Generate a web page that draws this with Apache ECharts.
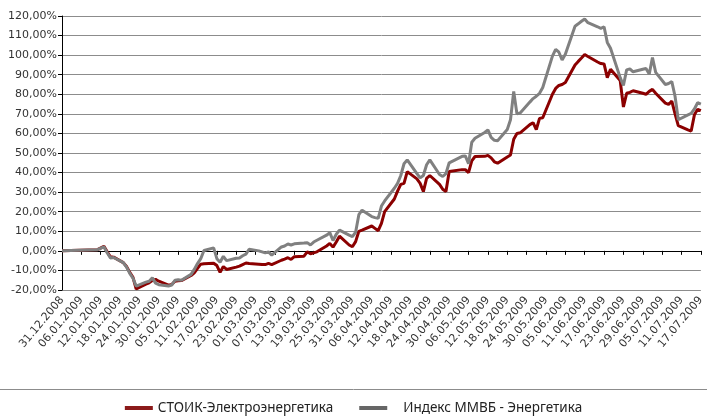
<!DOCTYPE html>
<html>
<head>
<meta charset="utf-8">
<script src="https://cdn.jsdelivr.net/npm/echarts@6/dist/echarts.min.js"></script>
<style>
  html, body { margin: 0; padding: 0; background: #fff; }
  #chart { width: 707px; height: 416px; }
</style>
</head>
<body>
<div id="chart"></div>
<script>
// trading dates (DD.MM.YYYY)
const dates = [
  '31.12.2008', '11.01.2009', '13.01.2009', '14.01.2009', '15.01.2009', '16.01.2009',
  '19.01.2009', '20.01.2009', '21.01.2009', '22.01.2009', '23.01.2009',
  '26.01.2009', '27.01.2009', '28.01.2009', '29.01.2009', '30.01.2009',
  '02.02.2009', '03.02.2009', '04.02.2009', '05.02.2009', '06.02.2009',
  '09.02.2009', '10.02.2009', '11.02.2009', '12.02.2009', '13.02.2009',
  '16.02.2009', '17.02.2009', '18.02.2009', '19.02.2009', '20.02.2009',
  '23.02.2009', '24.02.2009', '25.02.2009', '26.02.2009', '27.02.2009',
  '02.03.2009', '03.03.2009', '04.03.2009', '05.03.2009', '06.03.2009',
  '09.03.2009', '10.03.2009', '11.03.2009', '12.03.2009', '13.03.2009',
  '16.03.2009', '17.03.2009', '18.03.2009', '19.03.2009', '20.03.2009',
  '23.03.2009', '24.03.2009', '25.03.2009', '26.03.2009', '27.03.2009',
  '30.03.2009', '31.03.2009', '01.04.2009', '02.04.2009', '03.04.2009',
  '06.04.2009', '07.04.2009', '08.04.2009', '09.04.2009', '10.04.2009',
  '13.04.2009', '14.04.2009', '15.04.2009', '16.04.2009', '17.04.2009',
  '20.04.2009', '21.04.2009', '22.04.2009', '23.04.2009', '24.04.2009',
  '27.04.2009', '28.04.2009', '29.04.2009', '30.04.2009',
  '04.05.2009', '05.05.2009', '06.05.2009', '07.05.2009', '08.05.2009',
  '11.05.2009', '12.05.2009', '13.05.2009', '14.05.2009', '15.05.2009',
  '18.05.2009', '19.05.2009', '20.05.2009', '21.05.2009', '22.05.2009',
  '25.05.2009', '26.05.2009', '27.05.2009', '28.05.2009', '29.05.2009',
  '01.06.2009', '02.06.2009', '03.06.2009', '04.06.2009', '05.06.2009',
  '08.06.2009', '09.06.2009', '10.06.2009', '11.06.2009', '12.06.2009',
  '15.06.2009', '16.06.2009', '17.06.2009', '18.06.2009', '19.06.2009',
  '22.06.2009', '23.06.2009', '24.06.2009', '25.06.2009', '26.06.2009',
  '29.06.2009', '30.06.2009', '01.07.2009', '02.07.2009', '03.07.2009',
  '06.07.2009', '07.07.2009', '08.07.2009', '09.07.2009', '10.07.2009',
  '13.07.2009', '14.07.2009', '15.07.2009', '16.07.2009', '17.07.2009'
];

// СТОИК-Электроэнергетика, %
const stoik = [
  0, 0.6, 2.3, -0.5, -3.0, -3.2,
  -6.0, -8.0, -11.0, -13.5, -19.5,
  -17.0, -16.3, -15.2, -14.6, -15.5,
  -17.5, -17.2, -15.5, -15.3, -15.2,
  -12.6, -11.2, -9.0, -6.8, -6.6,
  -6.3, -7.5, -11.0, -8.0, -9.5,
  -8.3, -7.8, -7.0, -6.2, -6.5,
  -6.8, -7.0, -7.0, -6.4, -7.0,
  -4.8, -4.2, -3.5, -4.4, -3.0,
  -2.7, -0.5, -1.5, -1.0, -0.5,
  2.5, 3.8, 1.9, 4.5, 7.5,
  3.0, 2.1, 4.7, 10.0, 10.6,
  12.7, 11.5, 10.3, 14.0, 20.0,
  26.5, 30.5, 34.0, 34.5, 40.5,
  36.8, 34.5, 30.3, 37.0, 38.5,
  34.0, 31.5, 30.3, 40.5,
  41.5, 41.5, 40.0, 46.0, 48.2,
  48.3, 48.8, 47.5, 45.5, 44.8,
  48.0, 49.0, 57.0, 60.0, 60.3,
  64.5, 65.5, 62.0, 67.7, 68.0,
  80.0, 83.0, 84.5, 85.0, 86.0,
  95.0, 96.8, 98.5, 100.3, 99.3,
  96.5, 95.7, 95.5, 88.5, 92.8,
  87.0, 73.5, 80.5, 81.0, 81.8,
  80.5, 80.0, 81.5, 82.5, 80.5,
  75.5, 74.8, 76.5, 70.0, 64.0,
  61.8, 61.2, 69.5, 72.3, 71.6
];

// Индекс ММВБ - Энергетика, %
const micex = [
  0, 0.6, 2.0, -1.0, -3.6, -3.4,
  -6.0, -8.3, -11.5, -14.0, -18.0,
  -16.0, -15.5, -13.8, -16.5, -17.3,
  -18.0, -17.5, -15.0, -14.8, -15.0,
  -12.0, -9.5, -6.5, -4.0, 0.2,
  1.5, -4.0, -5.8, -2.8, -5.0,
  -3.8, -3.6, -2.5, -1.7, 0.8,
  0.0, -0.5, -1.0, -0.5, -2.2,
  2.0, 2.5, 3.5, 3.0, 3.6,
  4.0, 4.2, 3.0, 4.5, 5.4,
  8.0, 9.3, 5.3, 8.5, 10.6,
  8.0, 7.3, 9.5, 18.5, 20.8,
  17.5, 17.0, 16.6, 22.9, 25.5,
  32.0, 34.5, 38.5, 44.5, 46.5,
  39.5, 37.3, 38.5, 44.0, 46.5,
  39.0, 38.0, 39.5, 45.0,
  48.3, 48.5, 44.5, 55.5, 57.5,
  60.5, 61.8, 58.0, 56.5, 56.3,
  62.0, 67.0, 81.5, 70.0, 70.5,
  76.0, 77.8, 79.0, 80.5, 83.5,
  99.5, 103.0, 101.5, 97.5, 100.5,
  114.8, 116.0, 117.3, 118.5, 116.6,
  114.5, 113.7, 114.5, 106.5, 103.5,
  88.5, 84.5, 92.5, 93.0, 91.5,
  92.8, 93.2, 90.3, 98.8, 91.2,
  85.0, 85.5, 86.5, 79.0, 67.0,
  69.5, 70.2, 72.5, 75.7, 75.0
];

const yTicks = { min: -20, max: 120, step: 10 };
const dayStep = 6;

const DAY = 86400000;
const start = Date.UTC(2008, 11, 31);

function toDay(s) {
  const p = s.split('.');
  return Math.round((Date.UTC(+p[2], +p[1] - 1, +p[0]) - start) / DAY);
}

function dayLabel(d) {
  const t = new Date(start + d * DAY);
  const dd = String(t.getUTCDate()).padStart(2, '0');
  const mm = String(t.getUTCMonth() + 1).padStart(2, '0');
  return dd + '.' + mm + '.' + t.getUTCFullYear();
}

const days = dates.map(toDay);
const lastDay = days[days.length - 1];

const chart = echarts.init(document.getElementById('chart'));

const option = {
  animation: false,
  backgroundColor: '#fff',
  textStyle: { fontFamily: 'DejaVu Sans' },
  grid: {
    left: 62,
    right: 2,
    top: 16,
    bottom: 126,
    containLabel: false
  },
  legend: {
    left: 'center',
    top: 396,
    icon: 'rect',
    itemWidth: 28,
    itemHeight: 4,
    itemGap: 26,
    textStyle: {
      fontFamily: 'Noto Sans',
      fontSize: 13.5,
      color: '#222'
    },
    data: [
      { name: 'СТОИК-Электроэнергетика', itemStyle: { color: '#8b1a1a' } },
      {
        name: 'Индекс ММВБ - Энергетика',
        itemStyle: { color: '#666' },
        textStyle: { padding: [0, 0, 0, 11] }
      }
    ]
  },
  xAxis: {
    type: 'value',
    min: 0,
    max: lastDay,
    interval: dayStep,
    axisLine: { lineStyle: { color: '#000', width: 1 } },
    axisTick: { length: 4, lineStyle: { color: '#000' } },
    splitLine: { show: false },
    axisLabel: {
      rotate: 50,
      fontSize: 11,
      color: '#333',
      margin: 8,
      hideOverlap: false,
      formatter: v => dayLabel(v)
    }
  },
  yAxis: {
    type: 'value',
    min: yTicks.min,
    max: yTicks.max,
    interval: yTicks.step,
    axisLine: { show: true, lineStyle: { color: '#000', width: 1 } },
    axisTick: { show: true, length: 4, lineStyle: { color: '#000' } },
    splitLine: { lineStyle: { color: '#8c8c8c', width: 1 } },
    axisLabel: {
      fontSize: 11,
      color: '#333',
      margin: 5,
      formatter: v => v.toFixed(2).replace('.', ',') + '%'
    }
  },
  series: [
    {
      name: 'СТОИК-Электроэнергетика',
      type: 'line',
      symbol: 'none',
      color: '#8b0000',
      lineStyle: { width: 3, color: '#8b0000' },
      data: days.map((d, i) => [d, stoik[i]])
    },
    {
      name: 'Индекс ММВБ - Энергетика',
      type: 'line',
      symbol: 'none',
      color: '#808080',
      lineStyle: { width: 3, color: '#808080' },
      data: days.map((d, i) => [d, micex[i]])
    }
  ],
  graphic: [
    {
      type: 'line',
      shape: { x1: 0, y1: 389.5, x2: 707, y2: 389.5 },
      style: { stroke: '#8c8c8c', lineWidth: 1 }
    }
  ]
};

chart.setOption(option);
</script>
</body>
</html>
